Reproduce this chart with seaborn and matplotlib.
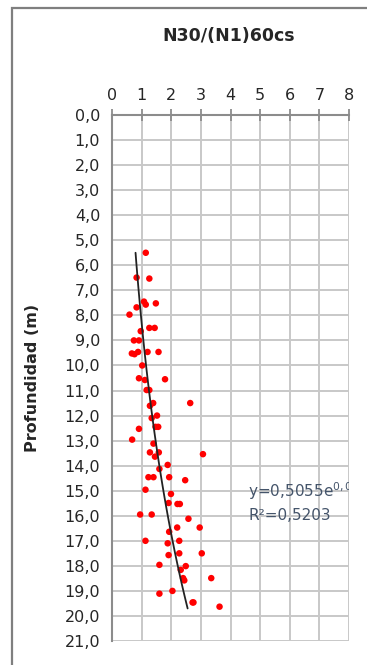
import numpy as np
import pandas as pd
import matplotlib
matplotlib.use("Agg")
import matplotlib.pyplot as plt
from matplotlib.patches import Rectangle
import seaborn as sns

# ==========================================
# DATA
# ==========================================
ratio = [1.14, 0.83, 1.26, 1.08, 1.14, 1.48, 0.83, 0.59, 0.97, 1.26, 1.44,
         0.74, 0.91, 0.67, 0.76, 0.88, 1.20, 1.57, 1.02, 0.91, 1.11, 1.79,
         1.17, 1.26, 1.39, 1.28, 2.64, 1.52, 1.34, 0.91, 1.47, 1.56,
         0.68, 1.40, 1.28, 1.58, 1.45, 3.07, 1.88, 1.60, 1.23, 1.40, 1.93,
         2.47, 1.13, 1.99, 1.91, 2.21, 2.29, 0.95, 1.34, 2.58, 2.20, 2.96,
         1.93, 1.13, 1.88, 2.27, 1.91, 2.27, 3.03, 1.60, 2.49, 2.32, 2.40,
         2.44, 3.35, 1.60, 2.04, 2.72, 2.75, 3.63]
depth = [5.50, 6.49, 6.53, 7.45, 7.57, 7.52, 7.68, 7.97, 8.63, 8.50, 8.50,
         9.00, 9.00, 9.52, 9.55, 9.46, 9.46, 9.46, 10.00, 10.51, 10.58, 10.55,
         10.98, 10.98, 11.50, 11.61, 11.50, 12.00, 12.10, 12.53, 12.45, 12.45,
         12.96, 13.12, 13.47, 13.47, 13.64, 13.54, 13.97, 14.13, 14.46, 14.46, 14.46,
         14.58, 14.96, 15.13, 15.49, 15.53, 15.53, 15.95, 15.95, 16.12, 16.47, 16.47,
         16.64, 17.00, 17.10, 17.00, 17.57, 17.50, 17.50, 17.96, 18.01, 18.16, 18.49,
         18.58, 18.49, 19.11, 19.00, 19.46, 19.46, 19.63]

# exponential trend line shown on the chart: x = a * exp(b * depth)
trend_a, trend_b = 0.5055, 0.0822
trend_depth_range = [5.5, 19.7]

x_ticks = [0, 1, 2, 3, 4, 5, 6, 7, 8]
y_ticks = list(range(0, 22))

title_txt = "N30/(N1)60cs"
ylabel_txt = "Profundidad (m)"
eq_txt = "y=0,5055e$^{0,082}$"
r2_txt = "R²=0,5203"

# ==========================================
# PLOT
# ==========================================
sns.set_style("white")
plt.rcParams["font.family"] = ["DejaVu Sans"]

W, H = 367, 665
fig = plt.figure(figsize=(W / 100, H / 100), dpi=100)
ax = fig.add_axes([112 / W, 1 - 641 / H, (349 - 112) / W, (641 - 115) / H])

# outer chart frame (only top and left visible in the crop)
fig.patches.append(Rectangle((12 / W, -0.05), 1.2, 1.05 - 8 / H,
                             transform=fig.transFigure, fill=False,
                             edgecolor="#7f7f7f", linewidth=1.6, zorder=0))

df = pd.DataFrame({"ratio": ratio, "depth": depth})
sns.scatterplot(data=df, x="ratio", y="depth", ax=ax, color="#ff0000",
                s=22, edgecolor="none", zorder=3)

td = np.linspace(trend_depth_range[0], trend_depth_range[1], 50)
trend = pd.DataFrame({"depth": td, "ratio": trend_a * np.exp(trend_b * td)})
sns.lineplot(data=trend, x="ratio", y="depth", ax=ax, color="#222222",
             linewidth=1.3, sort=False, estimator=None, zorder=4)

ax.set_xlim(0, 8)
ax.set_ylim(21, 0)
ax.xaxis.tick_top()
ax.xaxis.set_label_position("top")
ax.set_xticks(x_ticks)
ax.set_xticklabels([str(t) for t in x_ticks])
ax.set_yticks(y_ticks)
ax.set_yticklabels([f"{t:.1f}".replace(".", ",") for t in y_ticks])
ax.tick_params(axis="both", direction="inout", length=9, width=1.3,
               color="#8c8c8c", labelsize=11.5, labelcolor="#262626", pad=4)
ax.grid(True, color="#c8c8c8", linewidth=1.4)
ax.set_axisbelow(True)

for side in ["right", "bottom"]:
    ax.spines[side].set_visible(False)
for side in ["left", "top"]:
    ax.spines[side].set_color("#8c8c8c")
    ax.spines[side].set_linewidth(1.5)

ax.set_xlabel("")
ax.set_ylabel("")
fig.text(229 / W, 1 - 36 / H, title_txt, ha="center", va="center",
         fontsize=12.5, fontweight="bold", color="#262626")
fig.text(33 / W, 1 - 378 / H, ylabel_txt, ha="center", va="center",
         rotation=90, fontsize=11.5, fontweight="bold", color="#262626")

# equation label is clipped at the plot area's right edge, as in the reference
ax.text(248 / W, 1 - 491 / H, eq_txt, transform=fig.transFigure,
        ha="left", va="center", fontsize=11, color="#44546a", clip_on=True)
ax.text(248 / W, 1 - 515 / H, r2_txt, transform=fig.transFigure,
        ha="left", va="center", fontsize=11, color="#44546a", clip_on=True)

fig.savefig("out.png", dpi=100, facecolor="white")
